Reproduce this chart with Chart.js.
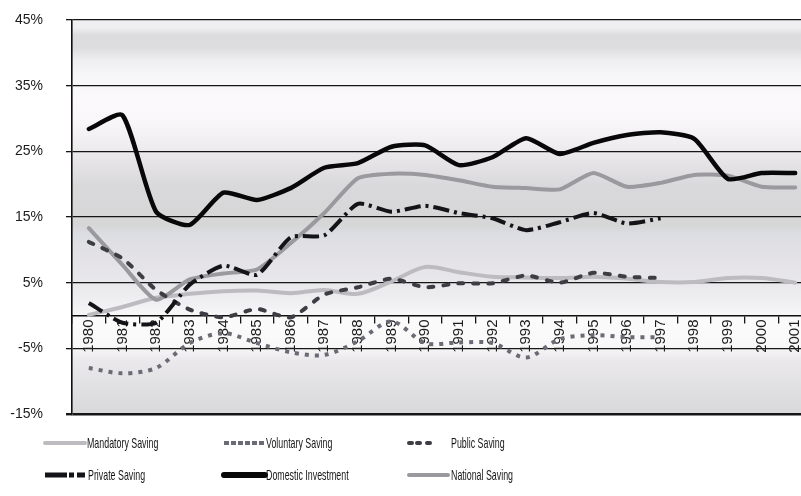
<!DOCTYPE html>
<html>
<head>
<meta charset="utf-8">
<script src="https://cdn.jsdelivr.net/npm/chart.js@4/dist/chart.umd.min.js"></script>
<style>
  html, body { margin: 0; padding: 0; background: #fff; overflow: hidden; width: 801px; height: 496px; }
  #wrap { position: relative; width: 816px; height: 496px; }
</style>
</head>
<body>
<div id="wrap"><canvas id="c" width="816" height="496"></canvas></div>
<script>
// Saving and investment as % of GDP, 1980–2001
const years = ['1980','1981','1982','1983','1984','1985','1986','1987','1988','1989','1990',
               '1991','1992','1993','1994','1995','1996','1997','1998','1999','2000','2001'];

const mandatorySaving   = [0.1, 1.3, 2.7, 3.3, 3.7, 3.8, 3.4, 3.9, 3.3, 5.2, 7.4, 6.6, 5.9, 5.8, 5.7, 5.9, 5.6, 5.1, 5.1, 5.7, 5.7, 5.0];
const voluntarySaving   = [-8.0, -8.8, -8.0, -4.2, -2.7, -4.2, -5.6, -6.0, -3.9, -0.9, -4.2, -4.1, -4.2, -6.4, -3.6, -3.0, -3.3, -3.3, null, null, null, null];
const publicSaving      = [11.2, 8.7, 3.9, 0.9, -0.3, 1.0, -0.3, 3.2, 4.3, 5.6, 4.3, 4.9, 4.9, 6.1, 5.0, 6.5, 5.9, 5.7, null, null, null, null];
const privateSaving     = [1.9, -1.1, -1.1, 4.7, 7.6, 6.2, 11.9, 12.2, 17.0, 15.8, 16.7, 15.6, 14.8, 13.0, 14.2, 15.6, 14.0, 14.8, null, null, null, null];
const domesticInvestment= [28.4, 30.5, 15.8, 13.8, 18.7, 17.6, 19.4, 22.5, 23.2, 25.7, 25.9, 22.9, 24.1, 27.0, 24.6, 26.3, 27.5, 27.9, 26.9, 20.8, 21.7, 21.7];
const nationalSaving    = [13.3, 7.7, 2.4, 5.5, 6.4, 7.0, 11.0, 15.6, 20.9, 21.6, 21.4, 20.6, 19.6, 19.4, 19.2, 21.7, 19.6, 20.2, 21.4, 21.3, 19.6, 19.5];

const yTicks = [-15, -5, 5, 15, 25, 35, 45];

const seriesNames = ['Mandatory Saving', 'Voluntary Saving', 'Public Saving',
                     'Private Saving', 'Domestic Investment', 'National Saving'];

// Banded grey shading behind the plot
const plotBackground = {
  id: 'plotBackground',
  beforeDraw(chart) {
    const { ctx, chartArea: a } = chart;
    const h = a.bottom - a.top;
    const g = ctx.createLinearGradient(0, a.top, 0, a.bottom);
    const stops = [
      [0, '#f0eff1'], [8, '#eeedf0'], [15, '#dcdbde'], [28, '#dddcdf'], [40, '#eeedf0'],
      [55, '#f7f6f8'], [80, '#fbf9fb'], [100, '#f9f7f9'], [125, '#efedf0'],
      [145, '#e4e2e5'], [165, '#d9d8da'], [205, '#d6d6d7'], [215, '#dcdee3'],
      [235, '#e3e1e6'], [262, '#e8e7ea'], [285, '#f1f0f2'], [300, '#fbfbfb'],
      [325, '#f9f8f9'], [340, '#ebe9ec'], [365, '#e1e0e3'], [394, '#d9d9db']
    ];
    stops.forEach(s => g.addColorStop(Math.min(1, s[0] / 394), s[1]));
    ctx.save();
    ctx.fillStyle = g;
    ctx.fillRect(a.left, a.top, a.right - a.left, h);
    ctx.restore();
  }
};

// Three-column legend beneath the plot
const bottomLegend = {
  id: 'bottomLegend',
  afterDraw(chart) {
    const { ctx } = chart;
    const slots = [
      { x0: 45,  x1: 85,  tx: 87,  y: 443, w: 4 },
      { x0: 224, x1: 264, tx: 266, y: 443, w: 4 },
      { x0: 409, x1: 434, tx: 451, y: 443, w: 4 },
      { x0: 45,  x1: 85,  tx: 88,  y: 475, w: 5 },
      { x0: 224, x1: 265, tx: 266, y: 475, w: 6 },
      { x0: 409, x1: 448, tx: 451, y: 475, w: 4 }
    ];
    chart.data.datasets.forEach((ds, i) => {
      const s = slots[i];
      ctx.save();
      ctx.strokeStyle = ds.borderColor;
      ctx.lineWidth = s.w;
      ctx.lineCap = ds.borderCapStyle || 'butt';
      ctx.setLineDash(ds.legendDash || []);
      ctx.beginPath();
      ctx.moveTo(s.x0, s.y);
      ctx.lineTo(s.x1, s.y);
      ctx.stroke();
      ctx.setLineDash([]);
      ctx.translate(s.tx, s.y);
      ctx.scale(0.59, 1);
      ctx.font = '15px "Liberation Sans", Arial, sans-serif';
      ctx.fillStyle = '#161616';
      ctx.textBaseline = 'middle';
      ctx.fillText(ds.label, 0, 0.5);
      ctx.restore();
    });
  }
};

const common = { pointRadius: 0, pointHoverRadius: 0, fill: false, tension: 0.2,
                 borderJoinStyle: 'round', spanGaps: false };

new Chart(document.getElementById('c'), {
  type: 'line',
  data: {
    labels: years,
    datasets: [
      { ...common, label: seriesNames[0], data: mandatorySaving, borderColor: '#bdbbbf',
        borderWidth: 4, borderCapStyle: 'round', tension: 0.3, order: 5 },
      { ...common, label: seriesNames[1], data: voluntarySaving, borderColor: '#6b6b76',
        borderWidth: 4, borderDash: [4, 6], legendDash: [5, 2], borderCapStyle: 'butt', tension: 0.3, order: 4 },
      { ...common, label: seriesNames[2], data: publicSaving, borderColor: '#3d3d44',
        borderWidth: 4, borderDash: [5, 10], legendDash: [3, 5, 3, 7], borderCapStyle: 'round', order: 2 },
      { ...common, label: seriesNames[3], data: privateSaving, borderColor: '#141418',
        borderWidth: 4, borderDash: [16, 5, 3, 5], legendDash: [22, 2, 5, 3, 8, 3], borderCapStyle: 'butt', order: 1 },
      { ...common, label: seriesNames[4], data: domesticInvestment, borderColor: '#080808',
        borderWidth: 4.5, borderCapStyle: 'round', order: 0 },
      { ...common, label: seriesNames[5], data: nationalSaving, borderColor: '#9a999e',
        borderWidth: 4, borderCapStyle: 'round', order: 3 }
    ]
  },
  options: {
    responsive: false,
    animation: false,
    events: [],
    layout: { padding: { top: 20, bottom: 82, left: 0, right: 4 } },
    plugins: { legend: { display: false }, tooltip: { enabled: false } },
    scales: {
      y: {
        min: -15, max: 45,
        afterBuildTicks: axis => { axis.ticks = yTicks.map(v => ({ value: v })); },
        afterFit: axis => {
          axis.width = 72;
          axis.paddingTop = 0;
          axis.paddingBottom = 0;
        },
        grid: {
          color: '#161616',
          lineWidth: c => (c.tick && c.tick.value === -15) ? 2.4 : 1.3,
          tickLength: 6
        },
        border: { display: true, color: '#101010', width: 1.6 },
        ticks: {
          padding: 23,
          color: '#1c1c1c',
          font: { family: '"Liberation Sans", Arial, sans-serif', size: 14 },
          callback: v => v + '%'
        }
      },
      x: {
        type: 'category',
        offset: true,
        position: { y: 0 },
        grid: { drawOnChartArea: false, drawTicks: true, tickLength: 7, color: '#161616', lineWidth: 1.3, offset: true },
        border: { display: true, color: '#101010', width: 1.6 },
        ticks: {
          autoSkip: false, maxRotation: 90, minRotation: 90, padding: -3,
          color: '#1c1c1c',
          font: { family: '"Liberation Sans", Arial, sans-serif', size: 15 }
        }
      }
    }
  },
  plugins: [plotBackground, bottomLegend]
});
</script>
</body>
</html>
